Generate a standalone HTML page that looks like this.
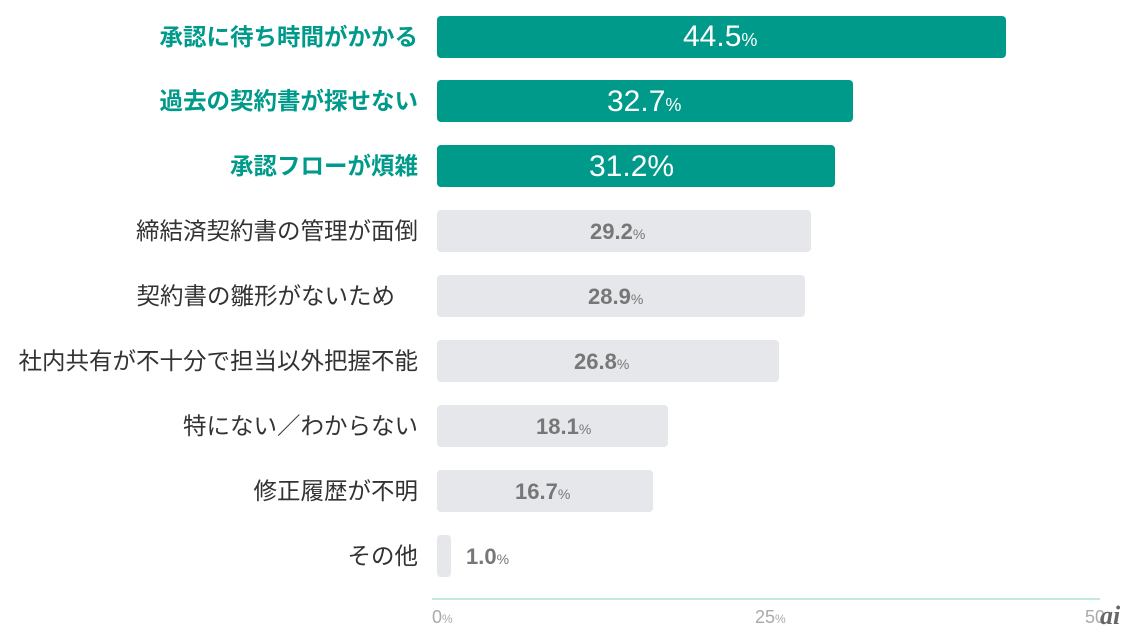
<!DOCTYPE html><html><head><meta charset="utf-8"><style>
body{margin:0;width:1130px;height:635px;background:#fff;position:relative;overflow:hidden;font-family:"Liberation Sans","Noto Sans CJK JP",sans-serif}
.l{position:absolute;right:712px;font-size:23.5px;color:#333;height:42px;line-height:42px;white-space:nowrap}
.l.t{color:#009a8a;font-weight:bold}
.b{position:absolute;left:437px;height:42px;border-radius:4px;background:#e5e7eb}
.b.t{background:#009a8a}
.v{position:absolute;height:42px;line-height:44px;font-weight:bold;color:#777;font-size:22px;white-space:nowrap}
.v small{font-size:14px;font-weight:normal}
.v.w{color:#fff;font-size:30px;font-weight:normal}
.v.w small{font-size:18px}
.x{position:absolute;top:607px;font-size:18px;color:#aaa}
.x small{font-size:12px}
</style></head><body>
<div class="l t" style="top:16px">承認に待ち時間がかかる</div>
<div class="l t" style="top:80px">過去の契約書が探せない</div>
<div class="l t" style="top:145px">承認フローが煩雑</div>
<div class="l" style="top:210px">締結済契約書の管理が面倒</div>
<div class="l" style="top:275px;right:735px">契約書の雛形がないため</div>
<div class="l" style="top:340px">社内共有が不十分で担当以外把握不能</div>
<div class="l" style="top:405px">特にない／わからない</div>
<div class="l" style="top:470px">修正履歴が不明</div>
<div class="l" style="top:535px">その他</div>

<div class="b t" style="top:16px;width:569px"></div>
<div class="b t" style="top:80px;width:416px"></div>
<div class="b t" style="top:145px;width:398px"></div>
<div class="b" style="top:210px;width:374px"></div>
<div class="b" style="top:275px;width:368px"></div>
<div class="b" style="top:340px;width:342px"></div>
<div class="b" style="top:405px;width:231px"></div>
<div class="b" style="top:470px;width:216px"></div>
<div class="b" style="top:535px;width:14px"></div>

<div class="v w" style="top:15px;left:683px">44.5<small>%</small></div>
<div class="v w" style="top:80px;left:607px">32.7<small>%</small></div>
<div class="v w" style="top:145px;left:589px">31.2<span style="font-size:30px">%</span></div>
<div class="v" style="top:210px;left:590px">29.2<small>%</small></div>
<div class="v" style="top:275px;left:588px">28.9<small>%</small></div>
<div class="v" style="top:340px;left:574px">26.8<small>%</small></div>
<div class="v" style="top:405px;left:536px">18.1<small>%</small></div>
<div class="v" style="top:470px;left:515px">16.7<small>%</small></div>
<div class="v" style="top:535px;left:466px">1.0<small>%</small></div>

<div style="position:absolute;left:432px;top:598px;width:668px;height:2px;background:#c4e8e2"></div>
<div class="x" style="left:432px">0<small>%</small></div>
<div class="x" style="left:755px">25<small>%</small></div>
<div class="x" style="left:1085px">50</div>
<div style="position:absolute;left:1100px;top:601px;font-size:26px;font-style:italic;font-weight:bold;color:#666;font-family:'Liberation Serif',serif">ai</div>
</body></html>
